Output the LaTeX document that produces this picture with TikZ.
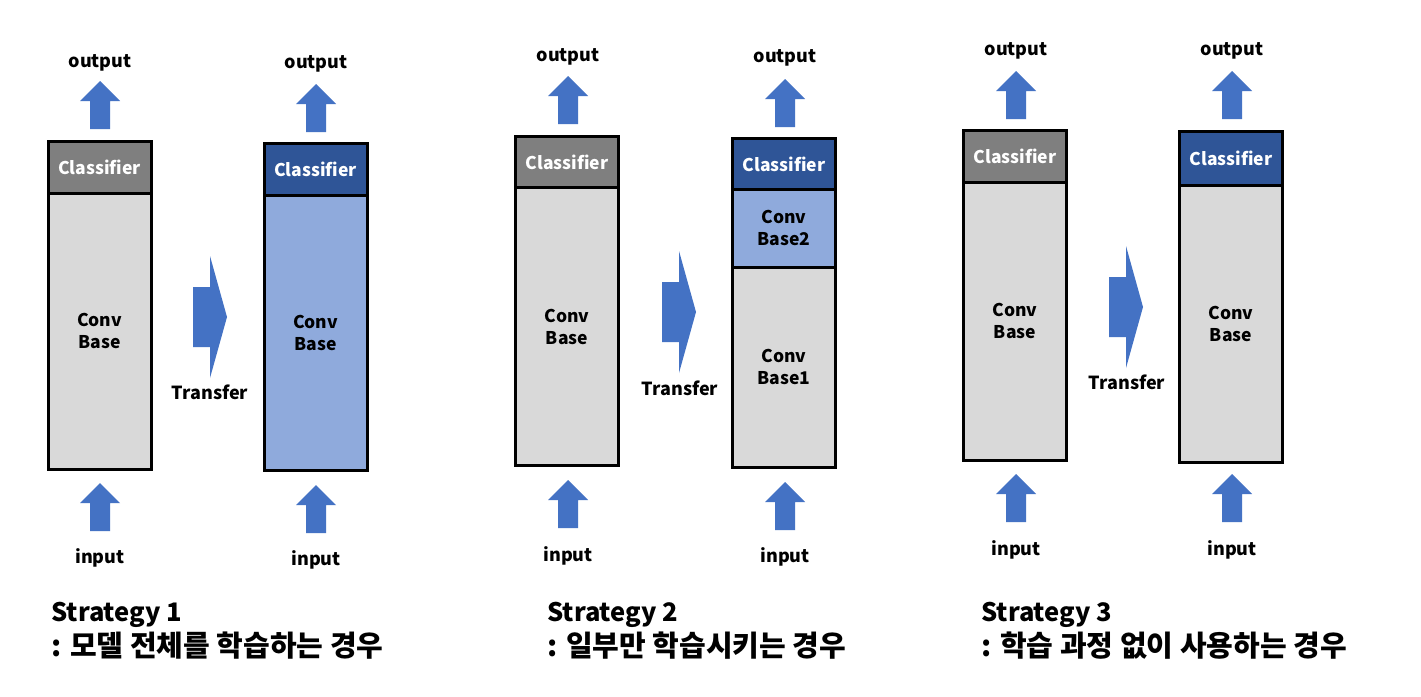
\documentclass[tikz,border=0pt]{standalone}
\usepackage{fontspec}
\setmainfont{Noto Sans CJK KR}
\definecolor{arrowblue}{HTML}{4472C4}
\definecolor{clsgray}{HTML}{7F7F7F}
\definecolor{clsblue}{HTML}{2F5597}
\definecolor{basegray}{HTML}{D9D9D9}
\definecolor{baseblue}{HTML}{8FAADC}
\begin{document}
\begin{tikzpicture}[x=1pt,y=-1pt,
 blk/.style={draw=black, line width=3pt, minimum width=103pt, inner sep=0pt,
   font=\bfseries\fontsize{17.5}{22}\selectfont, align=center},
 cls/.style={blk, text=white},
 lbl/.style={font=\bfseries\fontsize{18}{22}\selectfont, anchor=base, inner sep=0pt},
 title/.style={font=\bfseries\fontsize{25.5}{30}\selectfont, anchor=base west, inner sep=0pt},
 subtitle/.style={font=\bfseries\fontsize{29}{32}\selectfont, anchor=base west, inner sep=0pt},
 uparr/.pic={\fill[arrowblue] (-10,0) -- (-10,-28) -- (-20,-28) -- (0,-48) -- (20,-28) -- (10,-28) -- (10,0) -- cycle;},
 rtarr/.pic={\fill[arrowblue] (0,-30) -- (17,-30) -- (17,-61) -- (34,0) -- (17,61) -- (17,30) -- (0,30) -- cycle;},
]
\useasboundingbox[fill=white] (0,0) rectangle (1421,696);

% ---------- Strategy 1 ----------
\node[blk, fill=basegray, minimum height=276.5pt] (s1lb) at (99.5,331.25) {Conv\\Base};
\node[cls, fill=clsgray, minimum height=51.5pt] (s1lc) at (99.5,167.25) {Classifier};
\node[blk, fill=baseblue, minimum height=275.5pt] (s1rb) at (315.5,332.75) {Conv\\Base};
\node[cls, fill=clsblue, minimum height=51.5pt] (s1rc) at (315.5,169.25) {Classifier};
\pic at (100,129) {uparr};
\pic at (100,531) {uparr};
\pic at (316,132) {uparr};
\pic at (316,533) {uparr};
\node[lbl] (s1lo) at (100,67) {output};
\node[lbl] (s1ro) at (316,68) {output};
\node[lbl] (s1li) at (100,563) {input};
\node[lbl] (s1ri) at (316,565) {input};
\pic at (193,317) {rtarr};
\node[lbl] (s1t) at (210,399) {Transfer};
\node[title] (s1a) at (51,621) {Strategy 1};
\node[subtitle] (s1b) at (51,656) {: 모델 전체를 학습하는 경우};

% ---------- Strategy 2 ----------
\node[blk, fill=basegray, minimum height=278pt] (s2lb) at (567,326.5) {Conv\\Base};
\node[cls, fill=clsgray, minimum height=51pt] (s2lc) at (567,162) {Classifier};
\node[blk, fill=basegray, minimum height=200.5pt] (s2rb1) at (784,367.25) {Conv\\Base1};
\node[blk, fill=baseblue, minimum height=77.5pt] (s2rb2) at (784,228.25) {Conv\\Base2};
\node[cls, fill=clsblue, minimum height=51pt] (s2rc) at (784,164) {Classifier};
\pic at (568,124) {uparr};
\pic at (568,528) {uparr};
\pic at (785,127) {uparr};
\pic at (785,530) {uparr};
\node[lbl] (s2lo) at (568,61) {output};
\node[lbl] (s2ro) at (785,62) {output};
\node[lbl] (s2li) at (568,561) {input};
\node[lbl] (s2ri) at (785,562) {input};
\pic at (662,312) {rtarr};
\node[lbl] (s2t) at (680,395) {Transfer};
\node[title] (s2a) at (547,621) {Strategy 2};
\node[subtitle] (s2b) at (547,656) {: 일부만 학습시키는 경우};

% ---------- Strategy 3 ----------
\node[blk, fill=basegray, minimum height=278.5pt] (s3lb) at (1015,321.25) {Conv\\Base};
\node[cls, fill=clsgray, minimum height=51.5pt] (s3lc) at (1015,156.25) {Classifier};
\node[blk, fill=basegray, minimum height=277.5pt] (s3rb) at (1231,323.75) {Conv\\Base};
\node[cls, fill=clsblue, minimum height=53.5pt] (s3rc) at (1231,158.25) {Classifier};
\pic at (1016,119) {uparr};
\pic at (1016,522) {uparr};
\pic at (1232,119) {uparr};
\pic at (1232,522) {uparr};
\node[lbl] (s3lo) at (1016,55) {output};
\node[lbl] (s3ro) at (1232,55) {output};
\node[lbl] (s3li) at (1016,555) {input};
\node[lbl] (s3ri) at (1232,555) {input};
\pic at (1109,307) {rtarr};
\node[lbl] (s3t) at (1127,389) {Transfer};
\node[title] (s3a) at (981,621) {Strategy 3};
\node[subtitle] (s3b) at (981,656) {: 학습 과정 없이 사용하는 경우};
\end{tikzpicture}
\end{document}
